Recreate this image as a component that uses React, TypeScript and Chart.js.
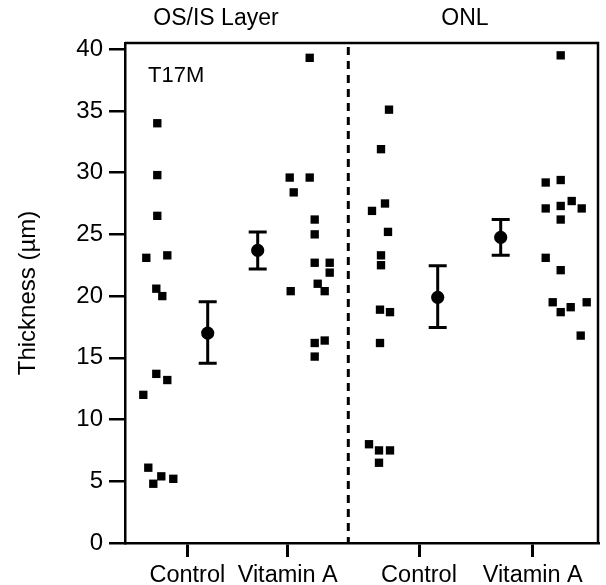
import React, { useEffect, useRef } from "react";
import { Chart, registerables } from "chart.js";

Chart.register(...registerables);

// ---- data ----
const yTicks = [0, 5, 10, 15, 20, 25, 30, 35, 40];
const groupLabels = ["Control", "Vitamin A", "Control", "Vitamin A"];
const groupX = [6.23, 16.27, 29.4, 40.77];
const dividerX = 22.33;
const panelTitles = ["OS/IS Layer", "ONL"];
const panelTitleX = [9.1, 34.0];
const cornerLabel = "T17M";

const osisControlValues = [34.0, 29.8, 26.5, 23.1, 23.3, 20.6, 20.0, 13.7, 13.2, 12.0, 6.1, 4.8, 5.4, 5.2];
const osisControlJitter = [-3.0, -3.0, -3.0, -4.1, -2.0, -3.1, -2.5, -3.1, -2.0, -4.4, -3.9, -3.4, -2.6, -1.4];

const osisVitAValues = [39.3, 29.6, 29.6, 28.4, 26.2, 25.0, 22.7, 22.7, 21.9, 21.0, 20.4, 20.4, 16.2, 16.4, 15.1];
const osisVitAJitter = [2.2, 0.2, 2.2, 0.6, 2.7, 2.7, 2.7, 4.2, 4.2, 3.0, 3.7, 0.3, 2.7, 3.7, 2.7];

const onlControlValues = [35.1, 31.9, 26.9, 27.5, 25.2, 23.3, 22.5, 18.9, 18.7, 16.2, 8.0, 7.5, 7.5, 6.5];
const onlControlJitter = [-3.0, -3.8, -4.7, -3.4, -3.1, -3.8, -3.8, -3.9, -2.9, -3.9, -5.0, -4.0, -2.9, -4.0];

const onlVitAValues = [39.5, 29.2, 29.4, 27.1, 27.3, 27.7, 27.1, 26.2, 23.1, 22.1, 19.5, 18.7, 19.1, 19.5, 16.8];
const onlVitAJitter = [2.8, 1.3, 2.8, 1.3, 2.8, 3.9, 4.9, 2.8, 1.3, 2.8, 2.0, 2.8, 3.8, 5.4, 4.8];

const meanValues = [17.0, 23.7, 19.9, 24.75];
const meanUpper = [19.55, 25.2, 22.45, 26.2];
const meanLower = [14.55, 22.2, 17.45, 23.3];
const meanOffset = [2.04, -3.0, 1.87, -3.2];

const FONT = "'Liberation Sans', Arial, Helvetica, sans-serif";

const groupsValues = [osisControlValues, osisVitAValues, onlControlValues, onlVitAValues];
const groupsJitter = [osisControlJitter, osisVitAJitter, onlControlJitter, onlVitAJitter];

export default function App() {
  const ref = useRef<HTMLCanvasElement | null>(null);

  useEffect(() => {
    if (!ref.current) return;

    const points: { x: number; y: number }[] = [];
    groupsValues.forEach((vals, g) => {
      vals.forEach((v, i) => points.push({ x: groupX[g] + groupsJitter[g][i], y: v }));
    });
    const meanPts = meanValues.map((m, g) => ({ x: groupX[g] + meanOffset[g], y: m }));

    const overlay = {
      id: "overlay",
      beforeDatasetsDraw(chart: any) {
        const { ctx, chartArea, scales } = chart;
        ctx.save();
        ctx.strokeStyle = "#000";
        ctx.lineWidth = 3;
        ctx.setLineDash([8, 6]);
        const dx = scales.x.getPixelForValue(dividerX);
        ctx.beginPath();
        ctx.moveTo(dx, chartArea.top + 4);
        ctx.lineTo(dx, chartArea.bottom);
        ctx.stroke();
        ctx.setLineDash([]);
        ctx.lineWidth = 2.5;
        ctx.beginPath();
        ctx.moveTo(chartArea.left, chartArea.top);
        ctx.lineTo(chartArea.right, chartArea.top);
        ctx.lineTo(chartArea.right, chartArea.bottom);
        ctx.stroke();
        ctx.restore();
      },
      afterDatasetsDraw(chart: any) {
        const { ctx, scales } = chart;
        ctx.save();
        ctx.strokeStyle = "#000";
        ctx.lineWidth = 3;
        meanValues.forEach((m, g) => {
          const px = scales.x.getPixelForValue(groupX[g] + meanOffset[g]);
          const top = scales.y.getPixelForValue(meanUpper[g]);
          const bot = scales.y.getPixelForValue(meanLower[g]);
          ctx.beginPath();
          ctx.moveTo(px, top);
          ctx.lineTo(px, bot);
          ctx.moveTo(px - 9, top);
          ctx.lineTo(px + 9, top);
          ctx.moveTo(px - 9, bot);
          ctx.lineTo(px + 9, bot);
          ctx.stroke();
        });
        ctx.fillStyle = "#000";
        ctx.font = `23px ${FONT}`;
        ctx.textAlign = "center";
        ctx.textBaseline = "middle";
        panelTitles.forEach((t, i) => {
          ctx.fillText(t, scales.x.getPixelForValue(panelTitleX[i]), 19);
        });
        ctx.font = `22px ${FONT}`;
        ctx.textAlign = "left";
        ctx.fillText(cornerLabel, scales.x.getPixelForValue(2.3), scales.y.getPixelForValue(37.85));
        ctx.restore();
      },
    };

    const chart = new Chart(ref.current, {
      type: "scatter",
      data: {
        datasets: [
          {
            label: "Individual",
            data: points,
            pointStyle: "rect",
            pointRadius: 5.9,
            borderWidth: 0,
            backgroundColor: "#000",
            borderColor: "#000",
          },
          {
            label: "Mean",
            data: meanPts,
            pointStyle: "circle",
            pointRadius: 6.6,
            borderWidth: 0,
            backgroundColor: "#000",
            borderColor: "#000",
          },
        ],
      },
      options: {
        responsive: false,
        animation: false,
        layout: { padding: { left: 0, top: 43, right: 8, bottom: 0 } },
        plugins: { legend: { display: false }, tooltip: { enabled: false } },
        scales: {
          x: {
            type: "linear",
            min: 0,
            max: 47.3,
            afterFit: (s: any) => {
              s.height = 42;
            },
            afterBuildTicks: (s: any) => {
              s.ticks = groupX.map((v) => ({ value: v }));
            },
            ticks: {
              autoSkip: false,
              maxRotation: 0,
              padding: 4,
              color: "#000",
              font: { family: FONT, size: 23.5 },
              callback: (v: any, i: number) => groupLabels[i],
            },
            grid: {
              drawOnChartArea: false,
              drawTicks: true,
              tickLength: 14,
              color: "#000",
              lineWidth: 3,
            },
            border: { display: true, color: "#000", width: 2.5 },
          },
          y: {
            type: "linear",
            min: 0,
            max: 40.5,
            afterFit: (s: any) => {
              s.width = 125;
            },
            afterBuildTicks: (s: any) => {
              s.ticks = yTicks.map((v) => ({ value: v }));
            },
            ticks: {
              padding: 6,
              color: "#000",
              font: { family: FONT, size: 24 },
            },
            grid: {
              drawOnChartArea: false,
              drawTicks: true,
              tickLength: 16,
              color: "#000",
              lineWidth: 2.5,
            },
            border: { display: true, color: "#000", width: 2.5 },
            title: {
              display: true,
              text: "Thickness (µm)",
              color: "#000",
              font: { family: FONT, size: 24 },
              padding: { top: 14, bottom: 0 },
            },
          },
        },
      },
      plugins: [overlay],
    });

    return () => chart.destroy();
  }, []);

  return (
    <div style={{ position: "fixed", left: 0, top: 0, width: 606, height: 585, background: "#fff" }}>
      <canvas ref={ref} width={606} height={585} style={{ display: "block", width: 606, height: 585 }} />
    </div>
  );
}
